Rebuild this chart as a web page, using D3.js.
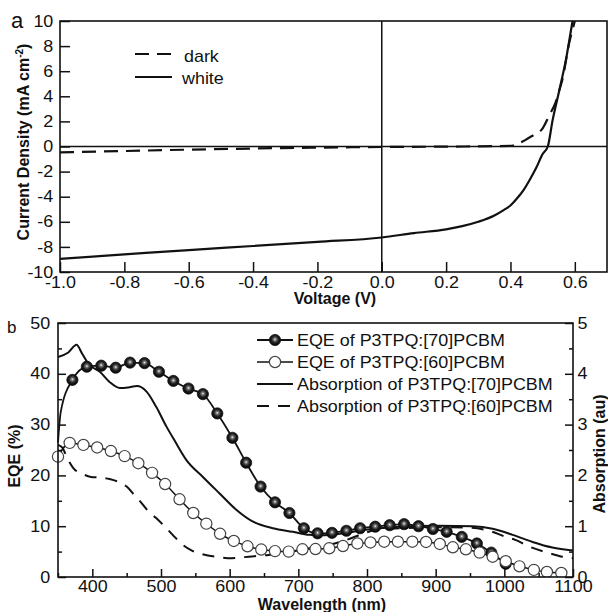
<!DOCTYPE html>
<html><head><meta charset="utf-8">
<script src="https://cdn.jsdelivr.net/npm/d3@7"></script>
<style>
body{margin:0;background:#fff;}
svg text{font-family:"Liberation Sans",Arial,Helvetica,sans-serif;fill:#111;}
</style></head><body>
<svg id="c" width="608" height="612"></svg>
<script>
// ---------- Panel a: J-V data ----------
const jvVoltTicks = [-1.0,-0.8,-0.6,-0.4,-0.2,0.0,0.2,0.4,0.6];
const jvCurrTicks = [-10,-8,-6,-4,-2,0,2,4,6,8,10];
const whiteV = [-1.0,-0.8,-0.6,-0.4,-0.2,0.0,0.1,0.2,0.25,0.3,0.35,0.38,0.4,0.42,0.44,0.46,0.48,0.5,0.516,0.531,0.552,0.573,0.593,0.6];
const whiteJ = [-8.95,-8.6,-8.25,-7.93,-7.6,-7.25,-6.9,-6.6,-6.35,-6.0,-5.5,-5.05,-4.7,-4.15,-3.5,-2.65,-1.7,-0.6,0.0,2.1,4.5,7.0,10.0,11.0];
const darkV = [-1.0,-0.8,-0.6,-0.4,-0.2,0.0,0.2,0.4,0.43,0.464,0.5,0.521,0.54,0.552,0.561,0.583,0.6,0.61];
const darkJ = [-0.47,-0.36,-0.25,-0.16,-0.09,-0.04,-0.01,0.05,0.3,0.8,1.45,2.5,3.5,4.5,5.3,8.3,10.0,11.0];
const jvLegend = ["dark","white"];

// ---------- Panel b: EQE / absorption data ----------
const wlTicks = [400,500,600,700,800,900,1000,1100];
const wlMinor = [350,450,550,650,750,850,950,1050];
const eqeTicks = [0,10,20,30,40,50];
const eqeMinor = [5,15,25,35,45];
const absTicks = [0,1,2,3,4,5];
const absMinor = [0.5,1.5,2.5,3.5,4.5];

const eqe70Wl = [350,354,371,392,413,434,455,476,497,518,540,561,582,604,624,645,666,687,708,728,749,770,790,812,833,854,875,896,916,938,960,981,1002];
const eqe70Val = [26.5,32.5,38.8,41.4,41.6,41.2,42.2,42.1,40.4,38.6,37.1,36.0,32.2,27.4,22.5,17.8,14.7,12.6,9.6,8.6,8.7,9.1,9.6,9.9,10.2,10.4,10.0,9.45,8.9,7.9,6.6,4.8,2.6];
const eqe70FirstMarker = 2;

const eqe60Wl = [350,367,387,407,427,447,467,487,506,527,547,566,586,606,626,646,666,686,706,725,745,765,786,805,825,845,866,886,906,925,944,964,983,1002,1022,1043,1062,1083];
const eqe60Val = [23.7,26.4,26.0,25.5,24.8,23.8,22.4,20.5,18.3,15.3,12.6,10.5,8.5,7.1,6.05,5.4,5.1,5.0,5.45,5.5,5.65,6.1,6.6,6.8,6.95,6.95,6.95,6.9,6.5,5.85,5.45,4.8,4.0,3.1,2.1,1.4,1.0,0.8];

const abs70Wl = [350,365,377,385,394,411,425,440,452,465,479,493,508,520,537,561,585,610,634,663,692,716,735,760,798,847,905,954,983,1012,1041,1070,1100];
const abs70Val = [4.33,4.42,4.57,4.4,4.2,4.04,3.84,3.72,3.73,3.76,3.65,3.35,2.96,2.68,2.3,1.97,1.65,1.32,1.09,0.96,0.89,0.83,0.82,0.85,0.93,0.99,1.01,1.0,0.95,0.83,0.69,0.58,0.52];

const abs60Wl = [350,356,365,372,387,398,410,425,440,450,462,469,480,493,505,517,532,545,560,585,603,620,636,654,673,692,706,730,750,770,800,813,850,900,950,980,1002,1016,1036,1065,1084,1100];
const abs60Val = [2.6,2.55,2.3,2.15,2.02,1.97,1.96,1.93,1.86,1.78,1.6,1.5,1.32,1.16,1.0,0.83,0.63,0.52,0.45,0.39,0.37,0.39,0.41,0.43,0.47,0.5,0.54,0.6,0.65,0.73,0.88,0.93,0.96,0.98,0.97,0.9,0.79,0.73,0.6,0.47,0.4,0.37];

const bLegend = ["EQE of P3TPQ:[70]PCBM","EQE of P3TPQ:[60]PCBM","Absorption of P3TPQ:[70]PCBM","Absorption of P3TPQ:[60]PCBM"];

// ---------- drawing ----------
const SX = 1.12;
const svg = d3.select("#c");
const ink = "#111";

function fmtSigned(d, digits){ const s = Math.abs(d).toFixed(digits); return (d < -1e-9 ? "-" : "") + s; }
function stext(g, x, y, str, size, anchor, weight){
  return g.append("text").attr("transform", `translate(${x},${y}) scale(${SX},1)`)
    .attr("font-size", size).attr("text-anchor", anchor || "start")
    .attr("font-weight", weight || "normal").text(str);
}
function styleAxis(g, showText){
  g.select(".domain").remove();
  g.selectAll(".tick line").attr("stroke", ink).attr("stroke-width", 1.5);
  if (showText) g.selectAll(".tick text").attr("font-size", 16).attr("fill", ink)
      .attr("font-family", '"Liberation Sans",Arial,sans-serif')
      .attr("transform", `scale(${SX},1)`);
  else g.selectAll(".tick text").remove();
}

const defs = svg.append("defs");
const grad = defs.append("radialGradient").attr("id","ball").attr("cx","50%").attr("cy","45%").attr("r","55%");
grad.append("stop").attr("offset","0%").attr("stop-color","#f4f4f4");
grad.append("stop").attr("offset","22%").attr("stop-color","#777");
grad.append("stop").attr("offset","55%").attr("stop-color","#222");
grad.append("stop").attr("offset","100%").attr("stop-color","#000");

// ===== Panel a =====
const jvX = d3.scaleLinear().domain([-1.0, 0.7]).range([60, 607]);
const jvY = d3.scaleLinear().domain([-10, 10]).range([272, 21]);
defs.append("clipPath").attr("id","clipA").append("rect")
  .attr("x", jvX.range()[0]).attr("y", jvY.range()[1])
  .attr("width", jvX.range()[1]-jvX.range()[0]).attr("height", jvY.range()[0]-jvY.range()[1]);

const pa = svg.append("g");
pa.append("line").attr("x1", jvX(-1.0)).attr("x2", jvX(0.7)).attr("y1", jvY(0)).attr("y2", jvY(0)).attr("stroke", ink).attr("stroke-width", 1.5);
pa.append("line").attr("x1", jvX(0)).attr("x2", jvX(0)).attr("y1", jvY(-10)).attr("y2", jvY(10)).attr("stroke", ink).attr("stroke-width", 1.5);

const jvLine = d3.line().x(d => jvX(d[0])).y(d => jvY(d[1])).curve(d3.curveMonotoneX);
const ca = pa.append("g").attr("clip-path","url(#clipA)");
ca.append("path").datum(darkV.map((v,i)=>[v,darkJ[i]])).attr("d", jvLine)
  .attr("fill","none").attr("stroke", ink).attr("stroke-width", 2.2).attr("stroke-dasharray","14,8");
ca.append("path").datum(whiteV.map((v,i)=>[v,whiteJ[i]])).attr("d", jvLine)
  .attr("fill","none").attr("stroke", ink).attr("stroke-width", 2.2);

const axA_x = pa.append("g").attr("transform", `translate(0,${jvY(-10)})`)
  .call(d3.axisBottom(jvX).tickValues(jvVoltTicks).tickSizeInner(-10).tickSizeOuter(0).tickPadding(5).tickFormat(d => fmtSigned(d,1)));
styleAxis(axA_x, true);
const axA_y = pa.append("g").attr("transform", `translate(${jvX(-1.0)},0)`)
  .call(d3.axisLeft(jvY).tickValues(jvCurrTicks).tickSizeInner(-10).tickSizeOuter(0).tickPadding(6).tickFormat(d => fmtSigned(d,0)));
styleAxis(axA_y, true);
pa.append("rect").attr("x", jvX(-1.0)).attr("y", jvY(10)).attr("width", jvX(0.7)-jvX(-1.0)).attr("height", jvY(-10)-jvY(10))
  .attr("fill","none").attr("stroke", ink).attr("stroke-width", 1.6);

pa.append("text").attr("x", 335).attr("y", 304).attr("text-anchor","middle").attr("font-size",16).attr("font-weight","bold").text("Voltage (V)");
const yt = pa.append("text").attr("transform","translate(29,142) rotate(-90)").attr("text-anchor","middle").attr("font-size",16).attr("font-weight","bold");
yt.append("tspan").text("Current Density (mA cm");
yt.append("tspan").attr("font-size",10).attr("dy",-6).text("-2");
yt.append("tspan").attr("dy",6).text(")");
pa.append("text").attr("x", 11).attr("y", 28).attr("font-size", 22).text("a");

pa.append("line").attr("x1",135).attr("x2",172).attr("y1",54).attr("y2",54).attr("stroke",ink).attr("stroke-width",2.2).attr("stroke-dasharray","14,8");
pa.append("line").attr("x1",135).attr("x2",172).attr("y1",77).attr("y2",77).attr("stroke",ink).attr("stroke-width",2.2);
stext(pa, 184, 61.5, jvLegend[0], 16);
stext(pa, 182, 84, jvLegend[1], 16);

// ===== Panel b =====
const wlX = d3.scaleLinear().domain([350, 1100]).range([58, 573]);
const eqeY = d3.scaleLinear().domain([0, 50]).range([577, 323]);
const absY = d3.scaleLinear().domain([0, 5]).range([577, 323]);
defs.append("clipPath").attr("id","clipB").append("rect")
  .attr("x", 50).attr("y", 315).attr("width", 532).attr("height", 262);

const pb = svg.append("g");
const cb = pb.append("g").attr("clip-path","url(#clipB)");
const absLine = d3.line().x(d => wlX(d[0])).y(d => absY(d[1])).curve(d3.curveMonotoneX);
const eqeLine = d3.line().x(d => wlX(d[0])).y(d => eqeY(d[1])).curve(d3.curveMonotoneX);

cb.append("path").datum(abs60Wl.map((w,i)=>[w,abs60Val[i]])).attr("d", absLine)
  .attr("fill","none").attr("stroke",ink).attr("stroke-width",2).attr("stroke-dasharray","12,9");
cb.append("path").datum(abs70Wl.map((w,i)=>[w,abs70Val[i]])).attr("d", absLine)
  .attr("fill","none").attr("stroke",ink).attr("stroke-width",2);

const e70 = eqe70Wl.map((w,i)=>[w,eqe70Val[i]]);
const e60 = eqe60Wl.map((w,i)=>[w,eqe60Val[i]]);
cb.append("path").datum(e70).attr("d", eqeLine).attr("fill","none").attr("stroke",ink).attr("stroke-width",1.8);
cb.selectAll("circle.f").data(e70.slice(eqe70FirstMarker)).join("circle").attr("class","f")
  .attr("cx", d => wlX(d[0])).attr("cy", d => eqeY(d[1])).attr("r", 5.6)
  .attr("fill","url(#ball)").attr("stroke","#111").attr("stroke-width",0.8);
cb.append("path").datum(e60).attr("d", eqeLine).attr("fill","none").attr("stroke",ink).attr("stroke-width",1.5);
cb.selectAll("circle.o").data(e60).join("circle").attr("class","o")
  .attr("cx", d => wlX(d[0])).attr("cy", d => eqeY(d[1])).attr("r", 5.6)
  .attr("fill","#fff").attr("stroke","#444").attr("stroke-width",1.2);

const axB_x = pb.append("g").attr("transform", `translate(0,${eqeY(0)})`)
  .call(d3.axisBottom(wlX).tickValues(wlTicks).tickSizeInner(-8).tickSizeOuter(0).tickPadding(4).tickFormat(d3.format("d")));
styleAxis(axB_x, true);
const axB_xm = pb.append("g").attr("transform", `translate(0,${eqeY(0)})`)
  .call(d3.axisBottom(wlX).tickValues(wlMinor).tickSizeInner(-4).tickSizeOuter(0));
styleAxis(axB_xm, false);
const axB_y = pb.append("g").attr("transform", `translate(${wlX(350)},0)`)
  .call(d3.axisLeft(eqeY).tickValues(eqeTicks).tickSizeInner(-8).tickSizeOuter(0).tickPadding(7).tickFormat(d3.format("d")));
styleAxis(axB_y, true);
const axB_ym = pb.append("g").attr("transform", `translate(${wlX(350)},0)`)
  .call(d3.axisLeft(eqeY).tickValues(eqeMinor).tickSizeInner(-4).tickSizeOuter(0));
styleAxis(axB_ym, false);
const axB_r = pb.append("g").attr("transform", `translate(${wlX(1100)},0)`)
  .call(d3.axisRight(absY).tickValues(absTicks).tickSizeInner(-8).tickSizeOuter(0).tickPadding(4).tickFormat(d3.format("d")));
styleAxis(axB_r, true);
const axB_rm = pb.append("g").attr("transform", `translate(${wlX(1100)},0)`)
  .call(d3.axisRight(absY).tickValues(absMinor).tickSizeInner(-4).tickSizeOuter(0));
styleAxis(axB_rm, false);
pb.append("rect").attr("x", wlX(350)).attr("y", eqeY(50)).attr("width", wlX(1100)-wlX(350)).attr("height", eqeY(0)-eqeY(50))
  .attr("fill","none").attr("stroke", ink).attr("stroke-width", 1.6);

pb.append("text").attr("x", 322).attr("y", 610).attr("text-anchor","middle").attr("font-size",16).attr("font-weight","bold").text("Wavelength (nm)");
pb.append("text").attr("transform","translate(20,456) rotate(-90)").attr("text-anchor","middle").attr("font-size",16).attr("font-weight","bold").text("EQE (%)");
pb.append("text").attr("transform","translate(605,454) rotate(-90)").attr("text-anchor","middle").attr("font-size",16).attr("font-weight","bold").text("Absorption (au)");
pb.append("text").attr("x", 7).attr("y", 333).attr("font-size", 17).text("b");

const legY = [340, 362, 384, 406];
const lg = pb.append("g");
legY.forEach((ly, i) => {
  const l = lg.append("line").attr("x1",257).attr("x2",293).attr("y1",ly).attr("y2",ly).attr("stroke",ink);
  if (i === 0) { l.attr("stroke-width",1.8); lg.append("circle").attr("cx",275).attr("cy",ly).attr("r",5.6).attr("fill","url(#ball)").attr("stroke","#111").attr("stroke-width",0.8); }
  if (i === 1) { l.attr("stroke-width",1.5); lg.append("circle").attr("cx",275).attr("cy",ly).attr("r",5.6).attr("fill","#fff").attr("stroke","#444").attr("stroke-width",1.2); }
  if (i === 2) l.attr("stroke-width",2);
  if (i === 3) l.attr("stroke-width",2).attr("stroke-dasharray","12,9");
  stext(lg, 297, ly + 6, bLegend[i], 16);
});
</script>
</body></html>
